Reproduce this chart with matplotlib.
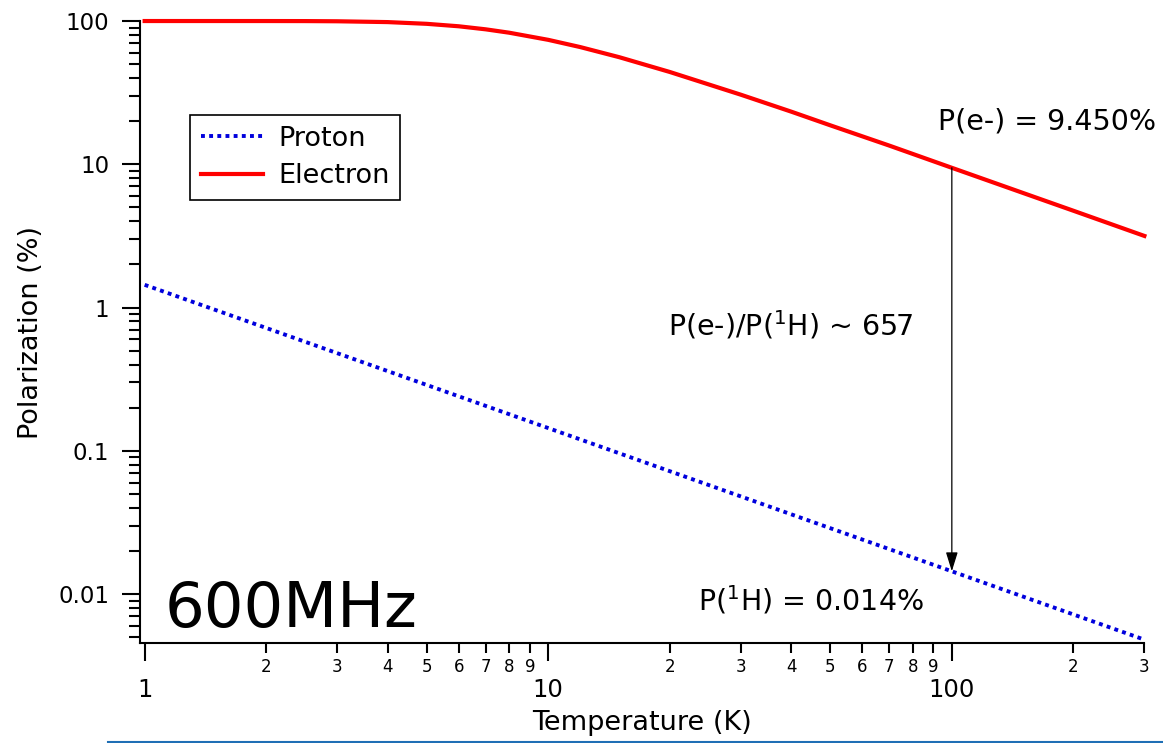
import numpy as np
import matplotlib
matplotlib.use('Agg')
import matplotlib.pyplot as plt
from matplotlib.ticker import LogLocator, FuncFormatter, NullFormatter
from matplotlib.lines import Line2D

plt.rcParams['font.family'] = ['DejaVu Sans']
plt.rcParams['mathtext.fontset'] = 'dejavusans'

# values
temp_e = [1, 1.5, 2, 2.5, 3, 4, 5, 6, 7, 8, 10, 12, 15, 20, 30, 40, 50, 70, 100, 150, 200, 300]
electron = [100.0, 100.0, 99.98, 99.9, 99.6, 98.3, 95.6, 91.9, 87.5, 82.9, 73.9, 65.8,
            55.9, 44.1, 30.6, 23.3, 18.7, 13.5, 9.45, 6.31, 4.74, 3.16]
temp_p = [1, 3, 10, 30, 100, 300]
proton = [1.44, 0.48, 0.144, 0.048, 0.0144, 0.0048]

arrow_T = 100
arrow_top = 9.45
arrow_bottom = 0.0144


def mantissa(v, pos):
    e = np.floor(np.log10(v) + 1e-9)
    return str(int(round(v / 10 ** e)))


fig = plt.figure(figsize=(11.63, 7.43), dpi=100)
ax = fig.add_axes([0.1201, 0.1346, 0.8639, 0.8371])

ax.plot(temp_p, proton, color='#0000dd', lw=2.8, linestyle=(0, (1, 1.1)),
        label='Proton', clip_on=False)
ax.plot(temp_e, electron, color='#ff0000', lw=3, label='Electron', clip_on=False)

ax.set_xscale('log')
ax.set_yscale('log')
ax.set_xlim(0.972, 300)
ax.set_ylim(0.00455, 100)

for s in ['top', 'right']:
    ax.spines[s].set_visible(False)
for s in ['left', 'bottom']:
    ax.spines[s].set_linewidth(1.5)

ax.xaxis.set_major_locator(LogLocator(base=10, subs=[1.0]))
ax.xaxis.set_minor_locator(LogLocator(base=10, subs=np.arange(2, 10)))
ax.xaxis.set_major_formatter(FuncFormatter(lambda v, p: '%g' % v))
ax.xaxis.set_minor_formatter(FuncFormatter(mantissa))
ax.yaxis.set_major_locator(LogLocator(base=10, subs=[1.0]))
ax.yaxis.set_minor_locator(LogLocator(base=10, subs=np.arange(2, 10)))
ax.yaxis.set_major_formatter(FuncFormatter(lambda v, p: '%g' % v))
ax.yaxis.set_minor_formatter(NullFormatter())

ax.tick_params(axis='x', which='major', length=13, width=1.5, pad=12, labelsize=17.5)
ax.tick_params(axis='x', which='minor', length=7, width=1.5, pad=4, labelsize=12)
ax.tick_params(axis='y', which='major', length=13, width=1.5, pad=9, labelsize=16.5)
ax.tick_params(axis='y', which='minor', length=8, width=1.5)

ax.set_xlabel('Temperature (K)', fontsize=19.5, labelpad=6)
ax.set_ylabel('Polarization (%)', fontsize=19.5, labelpad=10)

leg = ax.legend(loc='upper left', bbox_to_anchor=(0.05, 0.849), borderaxespad=0,
                fontsize=19.5, frameon=True, fancybox=False, handlelength=2.3,
                handletextpad=0.55, borderpad=0.4, labelspacing=0.42)
leg.get_frame().set_edgecolor('black')
leg.get_frame().set_linewidth(1.2)
leg.get_frame().set_alpha(1)

ax.annotate('', xy=(arrow_T, arrow_bottom), xytext=(arrow_T, arrow_top),
            arrowprops=dict(arrowstyle='-|>,head_length=0.9,head_width=0.28',
                            color='black', lw=0.9, mutation_scale=13,
                            shrinkA=0, shrinkB=0))

ax.text(0.7946, 0.8248, 'P(e-) = 9.450%', transform=ax.transAxes,
        fontsize=20.5, va='baseline', ha='left')
ax.text(0.526, 0.495, r'P(e-)/P($^{1}$H) ~ 657', transform=ax.transAxes,
        fontsize=20.5, va='baseline', ha='left')
ax.text(0.5557, 0.053, r'P($^{1}$H) = 0.014%', transform=ax.transAxes,
        fontsize=20.5, va='baseline', ha='left')
ax.text(0.025, 0.0265, '600MHz', transform=ax.transAxes,
        fontsize=45, va='baseline', ha='left')

fig.add_artist(Line2D([108 / 1163, 1], [1.5 / 743, 1.5 / 743], color='#1f6fb5', lw=1.5))

fig.savefig('out.png', dpi=100, facecolor='white')
